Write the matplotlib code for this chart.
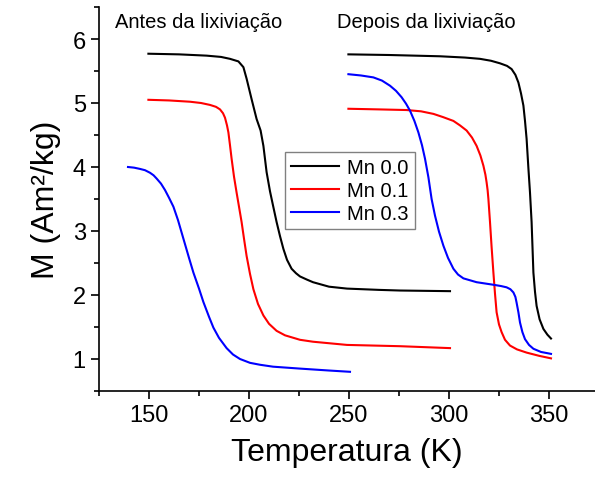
import matplotlib
matplotlib.use('Agg')
import matplotlib.pyplot as plt
from matplotlib.ticker import MultipleLocator

plt.rcParams['font.family'] = ['Liberation Sans', 'DejaVu Sans']

# before leaching (antes)
t_b00 = [149.7, 165, 178.8, 186, 190.5, 194.7, 197.2, 198.8, 201.3, 203.8, 205.8, 207.2, 208.8, 210.5, 212, 213.8, 215.5, 217.2, 219, 221.3, 223.5, 225.5, 229, 232, 240, 249, 265, 275.5, 300.5]
m_b00 = [5.77, 5.76, 5.74, 5.72, 5.69, 5.65, 5.56, 5.38, 5.06, 4.75, 4.57, 4.33, 3.92, 3.62, 3.40, 3.14, 2.92, 2.72, 2.55, 2.41, 2.34, 2.29, 2.24, 2.20, 2.13, 2.10, 2.08, 2.07, 2.06]
t_b01 = [149.7, 160, 170.5, 176, 180.5, 183.5, 185.5, 187, 188, 189, 189.7, 190.5, 191.3, 192.5, 193.8, 195, 196.3, 197.5, 198.8, 200.5, 202.2, 204.5, 207.2, 210, 213.8, 218, 225.5, 232, 249, 275.5, 300.5]
m_b01 = [5.05, 5.04, 5.02, 5.00, 4.97, 4.94, 4.90, 4.84, 4.77, 4.65, 4.54, 4.34, 4.13, 3.85, 3.60, 3.38, 3.14, 2.88, 2.61, 2.33, 2.09, 1.86, 1.68, 1.55, 1.44, 1.37, 1.30, 1.27, 1.22, 1.20, 1.17]
t_b03 = [139.5, 142.5, 145.5, 148, 150.5, 152.3, 153.8, 156, 158, 160, 162.2, 164.5, 167.2, 170, 172.2, 175, 177.2, 180, 182.2, 185, 188.8, 192, 195.5, 200.5, 205.5, 212, 225.5, 240, 250.5]
m_b03 = [4.00, 3.99, 3.97, 3.95, 3.91, 3.87, 3.82, 3.74, 3.64, 3.52, 3.38, 3.17, 2.88, 2.58, 2.35, 2.10, 1.89, 1.66, 1.49, 1.33, 1.17, 1.07, 1.00, 0.94, 0.91, 0.88, 0.85, 0.82, 0.80]

# after leaching (depois)
t_a00 = [249.7, 270, 295.5, 308, 315.5, 321, 325.5, 329, 331.3, 333.2, 334.7, 336, 337.2, 338, 338.8, 339.7, 340.5, 341.3, 342.2, 343, 343.8, 345.3, 347.2, 349.2, 351]
m_a00 = [5.76, 5.75, 5.73, 5.71, 5.69, 5.66, 5.62, 5.58, 5.53, 5.44, 5.32, 5.15, 4.96, 4.72, 4.44, 3.98, 3.60, 3.14, 2.35, 2.05, 1.83, 1.62, 1.47, 1.38, 1.32]
t_a01 = [249.7, 265, 278.8, 286, 292.2, 297, 302.2, 305.5, 308.8, 311.5, 313.8, 315.7, 317.2, 318.2, 318.8, 319.3, 319.7, 320.5, 321.3, 322.2, 323, 323.8, 325, 326.3, 328, 330.5, 334, 338.8, 345, 351]
m_a01 = [4.91, 4.90, 4.89, 4.87, 4.83, 4.78, 4.72, 4.65, 4.57, 4.46, 4.33, 4.18, 4.02, 3.88, 3.76, 3.64, 3.50, 3.14, 2.75, 2.35, 2.02, 1.73, 1.54, 1.42, 1.30, 1.21, 1.15, 1.10, 1.05, 1.01]
t_a03 = [249.7, 256, 262.2, 266.5, 270.5, 273.5, 276.3, 278.5, 280.5, 282.7, 284.7, 286.5, 288, 289.7, 291.3, 293, 295, 297.2, 299.5, 302.2, 304.5, 307.2, 310.5, 313.8, 318, 322.2, 326, 328.8, 330.7, 332.2, 333.2, 333.8, 334.7, 335.5, 336.7, 338, 340, 342.2, 346, 351]
m_a03 = [5.45, 5.43, 5.40, 5.35, 5.27, 5.19, 5.09, 4.99, 4.88, 4.72, 4.54, 4.34, 4.13, 3.84, 3.50, 3.24, 2.99, 2.77, 2.58, 2.41, 2.32, 2.26, 2.23, 2.20, 2.18, 2.16, 2.14, 2.12, 2.09, 2.04, 1.97, 1.88, 1.73, 1.57, 1.42, 1.31, 1.22, 1.16, 1.11, 1.08]

labels = ['Mn 0.0', 'Mn 0.1', 'Mn 0.3']
colors = ['black', 'red', 'blue']

fig = plt.figure(figsize=(5.95, 4.81), dpi=100)
ax = fig.add_axes([99/595, 89/481, 496/595, 384/481])

lw = 1.5
ax.plot(t_b00, m_b00, color=colors[0], lw=lw, label=labels[0])
ax.plot(t_b01, m_b01, color=colors[1], lw=lw, label=labels[1])
ax.plot(t_b03, m_b03, color=colors[2], lw=lw, label=labels[2])
ax.plot(t_a00, m_a00, color=colors[0], lw=lw)
ax.plot(t_a01, m_a01, color=colors[1], lw=lw)
ax.plot(t_a03, m_a03, color=colors[2], lw=lw)

ax.set_xlim(125, 373)
ax.set_ylim(0.5, 6.5)
ax.xaxis.set_major_locator(MultipleLocator(50))
ax.xaxis.set_minor_locator(MultipleLocator(25))
ax.yaxis.set_major_locator(MultipleLocator(1))
ax.yaxis.set_minor_locator(MultipleLocator(0.5))
ax.spines['top'].set_visible(False)
ax.spines['right'].set_visible(False)
for s in ['left', 'bottom']:
    ax.spines[s].set_linewidth(1.2)
ax.tick_params(which='major', direction='out', length=6, width=1.2, labelsize=17)
ax.tick_params(which='minor', direction='out', length=3.5, width=1.2)

ax.set_xlabel('Temperatura (K)', fontsize=23, labelpad=8)
ax.set_ylabel('M (Am²/kg)', fontsize=23, labelpad=8)

ax.text(133, 6.19, 'Antes da lixiviação', fontsize=14.5)
ax.text(244, 6.19, 'Depois da lixiviação', fontsize=14.5)

leg = ax.legend(loc='upper left', bbox_to_anchor=(0.375, 0.622), fontsize=14.5,
                frameon=True, fancybox=False, edgecolor='gray', framealpha=1,
                handlelength=2.4, handletextpad=0.4, borderpad=0.3, labelspacing=0.2,
                borderaxespad=0)
leg.get_frame().set_linewidth(1.0)

fig.savefig('out.png', dpi=100)
